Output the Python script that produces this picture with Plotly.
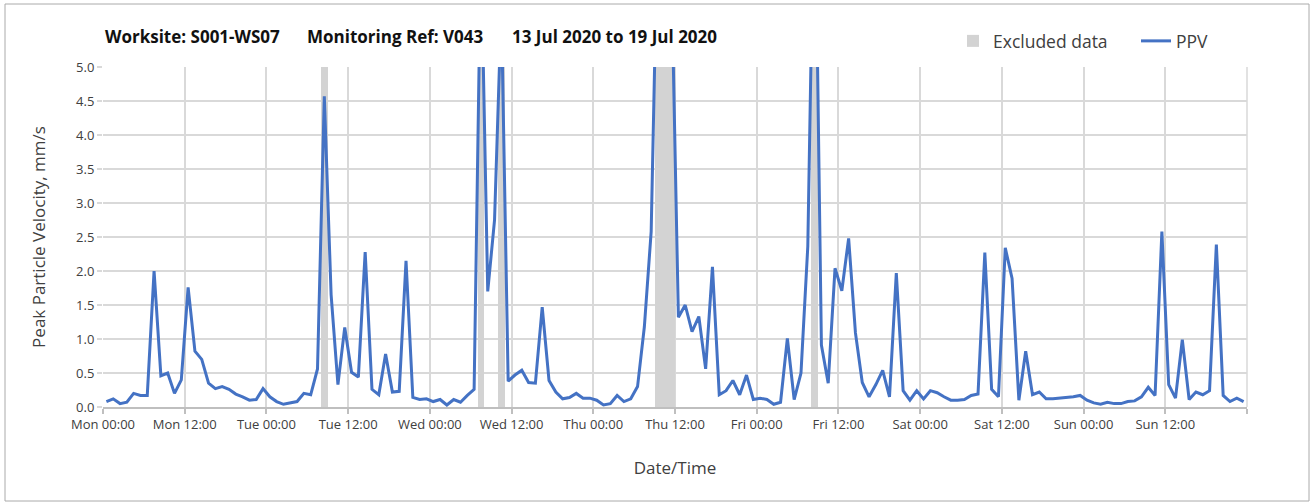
import pandas as pd
import plotly.graph_objects as go

# Hourly peak particle velocity (mm/s), Mon 13 Jul 2020 00:00 -> Sun 19 Jul 2020 24:00
ppv = [
    0.08, 0.12, 0.05, 0.07, 0.20, 0.17, 0.17, 2.00, 0.46, 0.50, 0.20, 0.40,
    1.76, 0.82, 0.70, 0.35, 0.27, 0.30, 0.26, 0.19, 0.15, 0.10, 0.11, 0.27,
    0.15, 0.08, 0.04, 0.06, 0.08, 0.20, 0.18, 0.56, 4.57, 1.65, 0.33, 1.17,
    0.51, 0.44, 2.28, 0.26, 0.18, 0.78, 0.22, 0.23, 2.15, 0.14, 0.11, 0.12,
    0.08, 0.11, 0.03, 0.11, 0.07, 0.17, 0.26, 6.80, 1.70, 2.75, 5.90, 0.38,
    0.47, 0.54, 0.36, 0.35, 1.47, 0.39, 0.22, 0.12, 0.14, 0.20, 0.13, 0.13,
    0.10, 0.03, 0.05, 0.17, 0.08, 0.12, 0.30, 1.18, 2.58, 7.40, 9.10, 6.30,
    1.32, 1.50, 1.11, 1.33, 0.56, 2.06, 0.18, 0.24, 0.39, 0.18, 0.47, 0.11,
    0.13, 0.11, 0.04, 0.07, 1.01, 0.11, 0.50, 2.36, 8.20, 0.91, 0.35, 2.04,
    1.71, 2.48, 1.09, 0.36, 0.15, 0.33, 0.54, 0.15, 1.97, 0.24, 0.10, 0.24,
    0.12, 0.24, 0.21, 0.15, 0.10, 0.10, 0.11, 0.17, 0.19, 2.27, 0.26, 0.15,
    2.34, 1.89, 0.10, 0.82, 0.18, 0.22, 0.12, 0.12, 0.13, 0.13, 0.15, 0.17,
    0.10, 0.06, 0.04, 0.07, 0.05, 0.05, 0.08, 0.09, 0.15, 0.29, 0.17, 2.58,
    0.33, 0.13, 0.99, 0.11, 0.22, 0.18, 0.24, 2.39, 0.17, 0.08, 0.13, 0.08,
]

# Hour indices (from Mon 00:00) flagged as excluded data
excluded_hours = [32, 55, 58, 81, 82, 83, 104]

tick_labels = [
    "Mon 00:00", "Mon 12:00", "Tue 00:00", "Tue 12:00", "Wed 00:00", "Wed 12:00",
    "Thu 00:00", "Thu 12:00", "Fri 00:00", "Fri 12:00", "Sat 00:00", "Sat 12:00",
    "Sun 00:00", "Sun 12:00", "",
]

y_max = 5.0
start = pd.Timestamp("2020-07-13 00:00")
# each hourly value is plotted at the middle of its hour
times = start + pd.to_timedelta(range(len(ppv)), unit="h") + pd.Timedelta(minutes=30)
excl_times = [times[h] for h in excluded_hours]
tick_vals = [start + pd.Timedelta(hours=12 * i) for i in range(len(tick_labels))]

FONT = "Open Sans"
TXT = "#404040"
GRID = "#d9d9d9"

fig = go.Figure()
fig.add_trace(go.Bar(
    x=excl_times, y=[y_max] * len(excl_times), width=3600 * 1000,
    marker=dict(color="#d3d3d3", line=dict(width=0)),
    name="Excluded data", hoverinfo="x", legend="legend",
))
fig.add_trace(go.Scatter(
    x=times, y=ppv, mode="lines", name="PPV",
    line=dict(color="#4472c4", width=3), legend="legend2",
))

L, R, T, B = 103, 67, 67, 96
W, H = 1314, 503
pw, ph = W - L - R, H - T - B


def px(x):
    return (x - L) / pw


def py(y):
    return (H - B - y) / ph


legend_style = dict(
    orientation="h", xanchor="left", yanchor="middle",
    font=dict(size=17.5, color=TXT), bgcolor="rgba(0,0,0,0)",
)

fig.update_layout(
    width=W, height=H,
    margin=dict(l=L, r=R, t=T, b=B),
    paper_bgcolor="white", plot_bgcolor="white",
    font=dict(family=FONT, color=TXT, size=13),
    bargap=0,
    showlegend=True,
    legend=dict(x=px(953), y=py(41), **legend_style),
    legend2=dict(x=px(1136), y=py(41), **legend_style),
    xaxis=dict(
        type="date",
        range=[start, start + pd.Timedelta(days=7)],
        tickvals=tick_vals, ticktext=tick_labels,
        showgrid=True, gridcolor=GRID, gridwidth=1.5,
        ticks="outside", ticklen=5, tickcolor="#bfbfbf", tickwidth=1.5,
        showline=True, linecolor="#bfbfbf", linewidth=1.5,
        tickfont=dict(size=13, color=TXT),
        title=dict(text="Date/Time", font=dict(size=17, color=TXT), standoff=30),
    ),
    yaxis=dict(
        range=[0, y_max], dtick=0.5, tickformat=".1f",
        showgrid=True, gridcolor=GRID, gridwidth=1.5, zeroline=False,
        ticks="outside", ticklen=5, tickcolor=GRID, tickwidth=1.5,
        tickfont=dict(size=13, color=TXT),
        title=dict(text="Peak Particle Velocity, mm/s", font=dict(size=17, color=TXT), standoff=26),
    ),
)

# right-hand frame edge of the plot area
fig.add_shape(type="line", xref="paper", yref="paper", x0=1, x1=1, y0=0, y1=1,
              line=dict(color=GRID, width=1.5), layer="below")

# outer chart border
fig.add_shape(type="rect", xref="paper", yref="paper",
              x0=px(5), x1=px(1309), y0=py(501), y1=py(4),
              line=dict(color="#aaaaaa", width=1), layer="below")

title_parts = [
    (103, "Worksite: S001-WS07"),
    (305, "Monitoring Ref: V043"),
    (510, "13 Jul 2020 to 19 Jul 2020"),
]
for x0, txt in title_parts:
    fig.add_annotation(
        text=f"<b>{txt}</b>", xref="paper", yref="paper",
        x=px(x0), y=py(36), xanchor="left", yanchor="middle",
        showarrow=False, font=dict(size=17, color="#111111", family=FONT),
    )

fig.write_html("out.html")
